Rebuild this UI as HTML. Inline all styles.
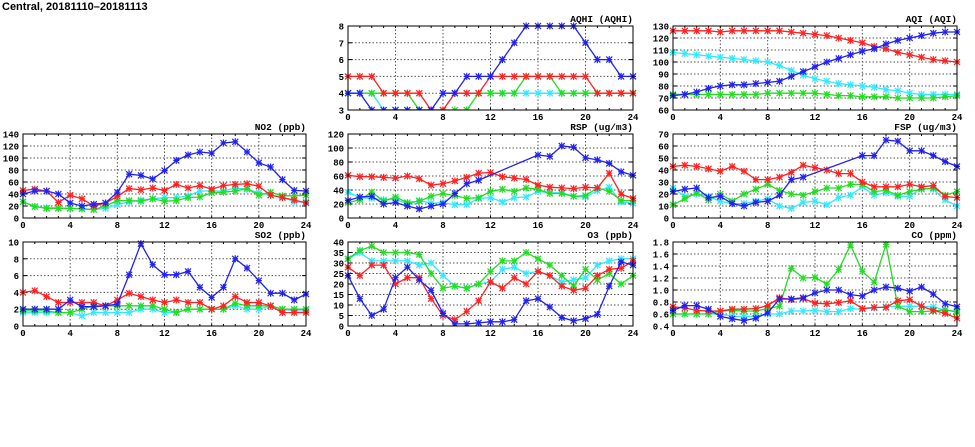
<!DOCTYPE html>
<html><head><meta charset="utf-8">
<style>
html,body{margin:0;padding:0;background:#fff;width:975px;height:447px;overflow:hidden}
svg{display:block;font-family:"Liberation Mono","DejaVu Sans Mono",monospace}
</style></head>
<body>
<svg id="chart" width="975" height="447" viewBox="0 0 975 447" xmlns="http://www.w3.org/2000/svg">
<text x="2" y="10" font-size="11" font-weight="bold" font-family="Liberation Sans, sans-serif">Central, 20181110–20181113</text>
</svg>
<script>
const hours=[0,1,2,3,4,5,6,7,8,9,10,11,12,13,14,15,16,17,18,19,20,21,22,23,24];
const xTicks=[0,4,8,12,16,20,24];
const seriesColors={cyan:"#33e8ff",green:"#22dd22",red:"#ff2222",blue:"#2222ee"};
const N=null;
// AQHI
const aqhiCyan=[4,4,4,3,3,3,3,3,3,4,4,4,4,4,4,4,4,4,4,4,4,4,4,4,4];
const aqhiGreen=[4,4,4,4,4,4,3,3,3,3,3,4,4,4,4,5,5,5,4,4,4,4,4,4,4];
const aqhiRed=[5,5,5,4,4,4,4,3,3,4,4,4,5,5,5,5,5,5,5,5,5,4,4,4,4];
const aqhiBlue=[4,4,3,3,3,3,3,3,4,4,5,5,5,6,7,8,8,8,8,8,7,6,6,5,5];
const aqhiTicks=[3,4,5,6,7,8];
// AQI
const aqiCyan=[108,107,106,105,104,103,102,101,100,97,93,89,86,84,82,81,80,79,77,76,74,73,73,73,73];
const aqiGreen=[73,73,73,73,73,73,73,73,74,74,74,74,74,73,72,72,71,71,71,70,70,70,70,71,72];
const aqiRed=[126,126,126,126,125,126,126,126,126,126,125,124,123,122,120,118,116,113,111,108,106,104,102,101,100];
const aqiBlue=[72,73,75,78,80,81,81,82,83,84,88,92,96,100,103,106,109,111,115,118,120,122,124,125,125];
const aqiTicks=[60,70,80,90,100,110,120,130];
// NO2
const no2Cyan=[27,19,17,17,16,16,14,16,22,27,30,32,34,34,37,45,45,45,50,48,42,38,35,27,27];
const no2Green=[27,19,16,16,16,15,14,20,29,29,28,32,28,29,34,35,42,43,45,49,38,43,37,37,38];
const no2Red=[46,48,45,26,38,32,20,25,36,49,47,50,46,56,50,54,48,54,56,57,53,38,34,30,25];
const no2Blue=[40,45,45,40,25,20,23,25,43,73,71,65,79,96,105,110,108,125,127,110,92,85,64,46,45];
const no2Ticks=[0,20,40,60,80,100,120,140];
// RSP
const rspCyan=[37,29,28,26,27,20,25,21,22,19,19,28,29,23,29,30,38,36,36,31,30,39,44,23,21];
const rspGreen=[22,26,37,24,30,22,24,31,35,32,28,29,38,41,38,43,41,35,35,31,32,43,38,25,25];
const rspRed=[61,59,59,58,57,60,56,47,49,53,58,64,65,59,57,55,47,44,43,42,44,43,64,34,28];
const rspBlue=[25,30,31,20,22,17,13,17,20,35,49,54,N,N,N,N,90,88,103,101,86,83,78,66,61];
const rspTicks=[0,20,40,60,80,100,120];
// FSP
const fspCyan=[25,18,20,18,14,12,12,14,16,10,8,13,14,11,17,19,26,19,21,18,18,25,24,15,10];
const fspGreen=[11,16,21,15,20,14,20,24,28,23,20,19,22,25,25,28,28,22,23,19,22,24,25,19,22];
const fspRed=[43,44,43,41,39,43,39,32,32,34,38,44,42,40,37,37,30,26,26,26,28,26,27,18,17];
const fspBlue=[22,24,25,17,18,12,10,13,14,19,32,34,N,N,N,N,52,52,65,64,56,56,52,47,43];
const fspTicks=[0,10,20,30,40,50,60,70];
// SO2
const so2Cyan=[1.6,1.6,1.6,1.6,1.6,1.2,1.6,1.6,1.6,1.6,2,2,1.6,1.6,2,2,2,2,2.4,2,2,2.4,2,1.8,1.8];
const so2Green=[1.8,1.8,1.8,1.6,1.6,2,2.4,2.4,2.4,2.4,2.4,2.4,2,1.6,2,2,2,2,2.7,2.4,2.4,2.4,2,2,2];
const so2Red=[4,4.2,3.5,2.8,2.8,2.8,2.8,2.4,3.1,3.9,3.5,3.1,2.8,3.1,2.8,2.8,2,2.4,3.5,2.8,2.8,2.4,1.6,1.6,1.6];
const so2Blue=[2,2,2,2,3.1,2.3,2.3,2.4,2.6,6.1,9.8,7.3,6.1,6.1,6.5,4.6,3.4,4.6,8,6.9,5.4,3.9,3.9,3.1,3.8];
const so2Ticks=[0,2,4,6,8,10];
// O3
const o3Cyan=[32,35,31,31,31,31,29,30,24,19,18,20,21,27,28,25,26,24,21,22,23,29,31,32,32];
const o3Green=[32,36,38,35,35,35,34,25,18,19,18,20,26,31,31,35,32,29,24,19,27,22,25,20,24];
const o3Red=[28,24,29,29,20,23,23,13,5,3,7,12,21,18,23,20,26,24,19,17,18,24,27,27.5,31];
const o3Blue=[24,13,5,8,23,28,22,17,6,1,1,1.5,2,2,3,12,13,9,4,2.5,3.5,5.5,19,30.5,29];
const o3Ticks=[0,5,10,15,20,25,30,35,40];
// CO
const coCyan=[.6,.6,.6,.6,.6,.56,.56,.56,.6,.6,.65,.65,.66,.64,.64,.69,.68,.7,.72,.73,.73,.73,.72,.66,.65];
const coGreen=[.6,.6,.6,.6,.65,.66,.65,.65,.69,.73,1.36,1.2,1.21,1.1,1.34,1.75,1.31,1.13,1.76,.73,.64,.64,.65,.67,.63];
const coRed=[.72,.7,.66,.65,.65,.68,.68,.69,.74,.87,.84,.86,.78,.77,.79,.82,.69,.71,.71,.82,.84,.73,.66,.61,.53];
const coBlue=[.66,.74,.74,.68,.56,.52,.49,.53,.62,.85,.85,.87,.95,1.0,1.0,.92,.9,1.0,1.05,1.03,.98,1.05,.93,.77,.72];
const coTicks=[0.4,0.6,0.8,1.0,1.2,1.4,1.6,1.8];

const NS="http://www.w3.org/2000/svg";
const svg=document.getElementById('chart');
function mk(tag,attrs,parent){const e=document.createElementNS(NS,tag);for(const k in attrs)e.setAttribute(k,attrs[k]);(parent||svg).appendChild(e);return e;}

const panels=[
 {key:"aqhi",title:"AQHI (AQHI)",x0:348,x1:633,y0:26,y1:110,ticks:aqhiTicks,fmt:v=>v,s:[aqhiCyan,aqhiGreen,aqhiRed,aqhiBlue]},
 {key:"aqi",title:"AQI (AQI)",x0:673,x1:957,y0:26,y1:110,ticks:aqiTicks,fmt:v=>v,s:[aqiCyan,aqiGreen,aqiRed,aqiBlue]},
 {key:"no2",title:"NO2 (ppb)",x0:23,x1:306,y0:134,y1:218,ticks:no2Ticks,fmt:v=>v,s:[no2Cyan,no2Green,no2Red,no2Blue]},
 {key:"rsp",title:"RSP (ug/m3)",x0:348,x1:633,y0:134,y1:218,ticks:rspTicks,fmt:v=>v,s:[rspCyan,rspGreen,rspRed,rspBlue]},
 {key:"fsp",title:"FSP (ug/m3)",x0:673,x1:957,y0:134,y1:218,ticks:fspTicks,fmt:v=>v,s:[fspCyan,fspGreen,fspRed,fspBlue]},
 {key:"so2",title:"SO2 (ppb)",x0:23,x1:306,y0:242,y1:326,ticks:so2Ticks,fmt:v=>v,s:[so2Cyan,so2Green,so2Red,so2Blue]},
 {key:"o3",title:"O3 (ppb)",x0:348,x1:633,y0:242,y1:326,ticks:o3Ticks,fmt:v=>v,s:[o3Cyan,o3Green,o3Red,o3Blue]},
 {key:"co",title:"CO (ppm)",x0:673,x1:957,y0:242,y1:326,ticks:coTicks,fmt:v=>v.toFixed(1),s:[coCyan,coGreen,coRed,coBlue]}
];
const colorOrder=["cyan","green","red","blue"];

panels.forEach(p=>{
  const g=mk('g',{});
  
  
  const ymin=p.ticks[0],ymax=p.ticks[p.ticks.length-1];
  const sx=h=>p.x0+(h-0)/(24-0)*(p.x1-p.x0);
  const sy=v=>p.y1-(v-ymin)/(ymax-ymin)*(p.y1-p.y0);
  // grid
  p.ticks.forEach(t=>{
    const y=sy(t);
    if(t!==ymin&&t!==ymax) mk('line',{x1:p.x0,x2:p.x1,y1:y,y2:y,stroke:"#555","stroke-width":1,"stroke-dasharray":"1.5,2"},g);
    mk('line',{x1:p.x0,x2:p.x0+4,y1:y,y2:y,stroke:"#000"},g);
    mk('line',{x1:p.x1-4,x2:p.x1,y1:y,y2:y,stroke:"#000"},g);
    const tx=mk('text',{x:p.x0-4,y:y+3.5,"font-size":9,"font-weight":"bold","text-anchor":"end"},g);
    tx.textContent=p.fmt(t);
    
    
  });
  xTicks.forEach(t=>{
    const x=sx(t);
    if(t!==0&&t!==24) mk('line',{x1:x,x2:x,y1:p.y0,y2:p.y1,stroke:"#555","stroke-width":1,"stroke-dasharray":"1.5,2"},g);
    const tx=mk('text',{x:x,y:p.y1+10,"font-size":9,"font-weight":"bold","text-anchor":"middle"},g);
    tx.textContent=t;
    
    
  });
  hours.forEach(h=>{const x=sx(h);
    mk('line',{x1:x,x2:x,y1:p.y1,y2:p.y1-2,stroke:"#000"},g);
    mk('line',{x1:x,x2:x,y1:p.y0,y2:p.y0+2,stroke:"#000"},g);});
  const cp=mk('clipPath',{id:'clip-'+p.key},g);
  mk('rect',{x:p.x0-5,y:p.y0-5,width:p.x1-p.x0+10,height:p.y1-p.y0+5},cp);
  const sg=mk('g',{"clip-path":"url(#clip-"+p.key+")"},g);
  p.s.forEach((vals,i)=>{
    const col=seriesColors[colorOrder[i]];
    const pts=[];
    vals.forEach((v,j)=>{if(v!==null)pts.push([sx(hours[j]),sy(v)]);});
    const pl=mk('polyline',{points:pts.map(q=>q[0].toFixed(1)+','+q[1].toFixed(1)).join(' '),fill:"none",stroke:col,"stroke-width":1.3},sg);
    
    
    pts.forEach(q=>{
      const m=mk('path',{d:`M${q[0]-3},${q[1]-3}L${q[0]+3},${q[1]+3}M${q[0]-3},${q[1]+3}L${q[0]+3},${q[1]-3}M${q[0]},${q[1]-3.5}L${q[0]},${q[1]+3.5}M${q[0]-3},${q[1]}L${q[0]+3},${q[1]}`,stroke:col,"stroke-width":1.2,fill:"none"},sg);
      
      
    });
  });
  mk('rect',{x:p.x0,y:p.y0,width:p.x1-p.x0,height:p.y1-p.y0,fill:"none",stroke:"#000","stroke-width":1},g);
  const tt=mk('text',{x:p.x1,y:p.y0-4,"font-size":9.5,"font-weight":"bold","text-anchor":"end"},g);
  tt.textContent=p.title;
  
  
});
</script>
</body></html>
